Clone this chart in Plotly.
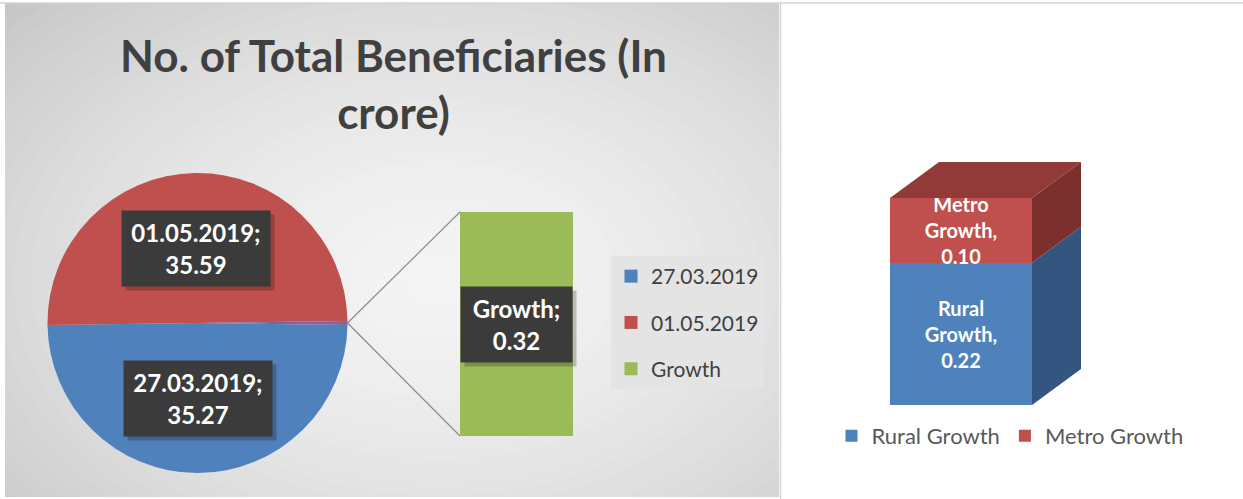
import math
import plotly.graph_objects as go

W, H = 1243, 499

# ---------------- data ----------------
pie_labels = ["27.03.2019", "01.05.2019", "Growth"]
pie_values = [35.27, 35.59, 0.32]
pie_colors = ["#4f81bd", "#c0504d", "#9bbb59"]
other_slice_color = "#8064a2"

growth_label = "Growth"
growth_value = 0.32

split_labels = ["Rural Growth", "Metro Growth"]
split_values = [0.22, 0.10]
split_front = ["#4f81bd", "#c0504d"]
split_side = ["#34557f", "#7b302e"]
split_top = "#923a38"

title_text = "No. of Total Beneficiaries (In<br>crore)"

FONT = "Lato"


def px(x):
    return x / W


def py(y):
    return 1 - y / H


fig = go.Figure()

# ---------------- left panel: pie-of-bar ----------------
pie_x0, pie_x1, pie_y0, pie_y1 = 47, 348, 173, 473
cx, cy = (pie_x0 + pie_x1) / 2, (pie_y0 + pie_y1) / 2
r = min(pie_x1 - pie_x0, pie_y1 - pie_y0) / 2
total = sum(pie_values)
other_angle = 360 * pie_values[2] / total
rotation = 90 + other_angle / 2

fig.add_trace(go.Pie(
    labels=pie_labels, values=pie_values, sort=False, direction="clockwise",
    rotation=rotation,
    marker=dict(colors=pie_colors[:2] + [other_slice_color], line=dict(width=0)),
    textinfo="none", hoverinfo="label+value", showlegend=False,
    domain=dict(x=[px(pie_x0), px(pie_x1)], y=[py(pie_y1), py(pie_y0)]),
))

# bar of the "other" part
bar_x0, bar_x1, bar_y0, bar_y1 = 460, 573, 212, 436
fig.add_trace(go.Bar(
    x=[0], y=[growth_value], width=1, marker=dict(color=pie_colors[2], line=dict(width=0)),
    xaxis="x2", yaxis="y2", showlegend=False, hoverinfo="y",
))

# legend entries for the left chart
for i, (lab, col) in enumerate(zip(pie_labels, pie_colors)):
    fig.add_trace(go.Scatter(
        x=[None], y=[None], mode="markers", name=lab, legendgroup=f"g{i}",
        marker=dict(symbol="square", size=13, color=col),
        xaxis="x2", yaxis="y2", legend="legend",
    ))

# ---------------- right panel: 3D stacked bar ----------------
front_x0, front_x1, front_bottom, front_top = 890, 1032, 405, 198
depth_px_x, depth_px_y = 49, 36
xs = front_x1 - front_x0                      # px per x unit (bar width = 1)
ys = (front_bottom - front_top) / sum(split_values)  # px per y unit
x3_dom = (850, 1110)
y3_dom_top = 140
fc = (front_x0 + front_x1) / 2

for lab, val, col in zip(split_labels, split_values, split_front):
    txt = lab.replace(" ", "<br>") + f",<br>{val:.2f}"
    fig.add_trace(go.Bar(
        x=[0], y=[val], width=1, name=lab, text=[txt],
        textposition="inside", insidetextanchor="middle", constraintext="none",
        textangle=0, textfont=dict(family=FONT, size=20, color="white", weight=700),
        marker=dict(color=col, line=dict(width=0)),
        xaxis="x3", yaxis="y3", legend="legend2", hoverinfo="name+y",
    ))

fig.update_layout(barmode="stack")

# ---------------- shapes ----------------
shapes = []
# left panel gradient background
LX0, LX1, LY0, LY1 = 5, 779, 3, 497
shapes.append(dict(type="rect", xref="paper", yref="paper", layer="below",
                   x0=px(LX0), x1=px(LX1), y0=py(LY1), y1=py(LY0),
                   fillcolor="#c6c6c6", line=dict(width=0)))
gcx, gcy, grx, gry = 440, 280, 640, 430
N = 36
for k in range(N):
    t = 1 - k / N
    v = int(round(244 - 50 * t ** 1.6))
    shapes.append(dict(type="circle", xref="paper", yref="paper", layer="below",
                       x0=px(gcx - grx * t), x1=px(gcx + grx * t),
                       y0=py(gcy + gry * t), y1=py(gcy - gry * t),
                       fillcolor=f"rgb({v},{v},{v})", line=dict(width=0)))
# white covers outside left panel
for (a, b, c, d) in [(LX1, W + 5, -5, H + 5), (-5, W + 5, -5, LY0), (-5, LX0, -5, H + 5), (-5, W + 5, LY1, H + 5)]:
    shapes.append(dict(type="rect", xref="paper", yref="paper", layer="below",
                       x0=px(a), x1=px(b), y0=py(d), y1=py(c),
                       fillcolor="white", line=dict(width=0)))
# borders
shapes.append(dict(type="line", xref="paper", yref="paper", layer="below",
                   x0=0, x1=1, y0=py(LY0), y1=py(LY0), line=dict(color="#d4d4d4", width=1.5)))
shapes.append(dict(type="line", xref="paper", yref="paper", layer="below",
                   x0=px(LX1 + 1.5), x1=px(LX1 + 1.5), y0=py(H), y1=py(LY0), line=dict(color="#d4d4d4", width=1.5)))

# connector lines pie -> bar
edge_x, edge_y = cx + r, cy
for by in (bar_y0, bar_y1):
    shapes.append(dict(type="line", xref="paper", yref="paper",
                       x0=px(edge_x), y0=py(edge_y), x1=px(bar_x0), y1=py(by),
                       line=dict(color="#8c8c8c", width=1.2)))

# 3D faces
dx = depth_px_x / xs
dy = depth_px_y / ys
base = 0
for val, col in zip(split_values, split_side):
    top = base + val
    shapes.append(dict(type="path", xref="x3", yref="y3",
                       path=f"M0.5,{base} L{0.5+dx},{base+dy} L{0.5+dx},{top+dy} L0.5,{top} Z",
                       fillcolor=col, line=dict(width=0)))
    base = top
shapes.append(dict(type="path", xref="x3", yref="y3",
                   path=f"M-0.5,{base} L{-0.5+dx},{base+dy} L{0.5+dx},{base+dy} L0.5,{base} Z",
                   fillcolor=split_top, line=dict(width=0)))

# ---------------- annotations ----------------
annotations = []

# title
annotations.append(dict(x=px(393), y=py(84), xref="paper", yref="paper", text=title_text,
                        showarrow=False, xanchor="center", yanchor="middle",
                        font=dict(family=FONT, size=44, color="#404040", weight=700)))


def label_box(x, y, text, w, h):
    annotations.append(dict(x=px(x + 4), y=py(y + 4), xref="paper", yref="paper", text=" ",
                            showarrow=False, width=w, height=h, xanchor="center", yanchor="middle",
                            bgcolor="rgba(0,0,0,0.22)"))
    annotations.append(dict(x=px(x), y=py(y), xref="paper", yref="paper", text=text,
                            showarrow=False, width=w, height=h, xanchor="center", yanchor="middle",
                            bgcolor="#3b3b3b",
                            font=dict(family=FONT, size=24, color="white", weight=700)))


start = rotation
for lab, val in zip(pie_labels[:2], pie_values[:2]):
    ang = 360 * val / total
    mid = math.radians(start + ang / 2)
    lx = cx + 0.5 * r * math.sin(mid)
    ly = cy - 0.5 * r * math.cos(mid)
    label_box(lx, ly, f"{lab};<br>{val:.2f}", 146, 73)
    start += ang

label_box((bar_x0 + bar_x1) / 2, (bar_y0 + bar_y1) / 2, f"{growth_label};<br>{growth_value:.2f}", 109, 73)

fig.update_layout(
    width=W, height=H, margin=dict(l=0, r=0, t=0, b=0),
    paper_bgcolor="white", plot_bgcolor="rgba(0,0,0,0)",
    font=dict(family=FONT, color="#404040"),
    shapes=shapes, annotations=annotations,
    xaxis=dict(visible=False),
    yaxis=dict(visible=False),
    xaxis2=dict(domain=[px(bar_x0), px(bar_x1)], range=[-0.5, 0.5], visible=False, fixedrange=True),
    yaxis2=dict(domain=[py(bar_y1), py(bar_y0)], range=[0, growth_value], visible=False, fixedrange=True),
    xaxis3=dict(domain=[px(x3_dom[0]), px(x3_dom[1])],
                range=[(x3_dom[0] - fc) / xs, (x3_dom[1] - fc) / xs], visible=False, fixedrange=True),
    yaxis3=dict(domain=[py(front_bottom), py(y3_dom_top)],
                range=[0, (front_bottom - y3_dom_top) / ys], visible=False, fixedrange=True),
    legend=dict(x=px(611), y=py(256), xanchor="left", yanchor="top",
                bgcolor="#e4e4e4", font=dict(family=FONT, size=21, color="#404040"),
                entrywidth=125, entrywidthmode="pixels",
                tracegroupgap=16, itemclick=False, itemdoubleclick=False),
    legend2=dict(orientation="h", x=px(1010), y=py(436), xanchor="center", yanchor="middle",
                 bgcolor="rgba(0,0,0,0)", font=dict(family=FONT, size=22, color="#595959"),
                 traceorder="normal", itemclick=False, itemdoubleclick=False),
    showlegend=True,
)

fig.write_html("out.html", config={"displayModeBar": False},
               post_script="document.body.style.margin='0px';")
